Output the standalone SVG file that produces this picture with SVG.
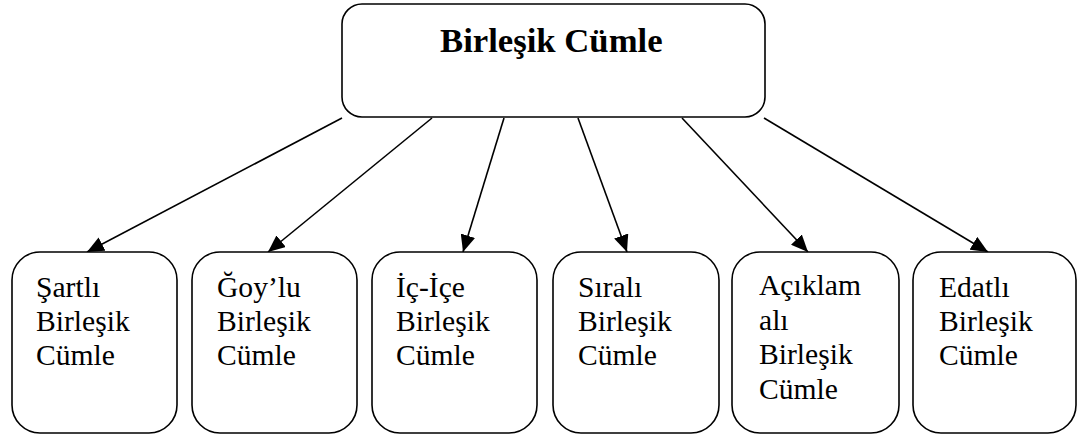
<svg xmlns="http://www.w3.org/2000/svg" width="1078" height="436" viewBox="0 0 1078 436">
  <defs>
    <style>
      .box { fill: #fff; stroke: #000; stroke-width: 1.6; }
      .title { font-family: "Liberation Serif", "Times New Roman", serif; font-weight: bold; font-size: 34.7px; fill: #000; }
      .label { font-family: "Liberation Serif", "Times New Roman", serif; font-size: 29.6px; fill: #000; }
      .edge { stroke: #000; stroke-width: 1.6; fill: none; marker-end: url(#arrow); }
    </style>
    <marker id="arrow" markerUnits="userSpaceOnUse" markerWidth="17" markerHeight="15" refX="17" refY="7.5" orient="auto">
      <path d="M0,0 L17,7.5 L0,15 Z" fill="#000"/>
    </marker>
  </defs>
  <rect width="1078" height="436" fill="#fff"/>

  <!-- root -->
  <g id="root">
    <rect class="box" x="342" y="4" width="423" height="113" rx="20" ry="20"/>
    <text class="title" x="440" y="52">Birleşik Cümle</text>
  </g>

  <!-- connectors -->
  <g id="connectors">
    <line class="edge" x1="342" y1="118" x2="87" y2="252"/>
    <line class="edge" x1="432" y1="118" x2="268" y2="252"/>
    <line class="edge" x1="504" y1="118" x2="463" y2="252"/>
    <line class="edge" x1="578" y1="118" x2="627" y2="252"/>
    <line class="edge" x1="682" y1="118" x2="808" y2="252"/>
    <line class="edge" x1="764" y1="118" x2="988" y2="252"/>
  </g>

  <!-- children -->
  <g id="sartli">
    <rect class="box" x="12" y="252" width="165" height="181" rx="28" ry="28"/>
    <text class="label" x="36" y="297">Şartlı</text>
    <text class="label" x="36" y="331">Birleşik</text>
    <text class="label" x="36" y="365">Cümle</text>
  </g>
  <g id="goylu">
    <rect class="box" x="192" y="252" width="165" height="181" rx="28" ry="28"/>
    <text class="label" x="217" y="297">Ğoy’lu</text>
    <text class="label" x="217" y="331">Birleşik</text>
    <text class="label" x="217" y="365">Cümle</text>
  </g>
  <g id="icice">
    <rect class="box" x="372" y="252" width="165" height="181" rx="28" ry="28"/>
    <text class="label" x="396" y="297">İç-İçe</text>
    <text class="label" x="396" y="331">Birleşik</text>
    <text class="label" x="396" y="365">Cümle</text>
  </g>
  <g id="sirali">
    <rect class="box" x="553" y="252" width="166" height="181" rx="28" ry="28"/>
    <text class="label" x="578" y="297">Sıralı</text>
    <text class="label" x="578" y="331">Birleşik</text>
    <text class="label" x="578" y="365">Cümle</text>
  </g>
  <g id="aciklamali">
    <rect class="box" x="732" y="252" width="167" height="181" rx="28" ry="28"/>
    <text class="label" x="759" y="295">Açıklam</text>
    <text class="label" x="759" y="330">alı</text>
    <text class="label" x="759" y="364">Birleşik</text>
    <text class="label" x="759" y="399">Cümle</text>
  </g>
  <g id="edatli">
    <rect class="box" x="913" y="252" width="163" height="181" rx="28" ry="28"/>
    <text class="label" x="939" y="297">Edatlı</text>
    <text class="label" x="939" y="331">Birleşik</text>
    <text class="label" x="939" y="365">Cümle</text>
  </g>
</svg>
